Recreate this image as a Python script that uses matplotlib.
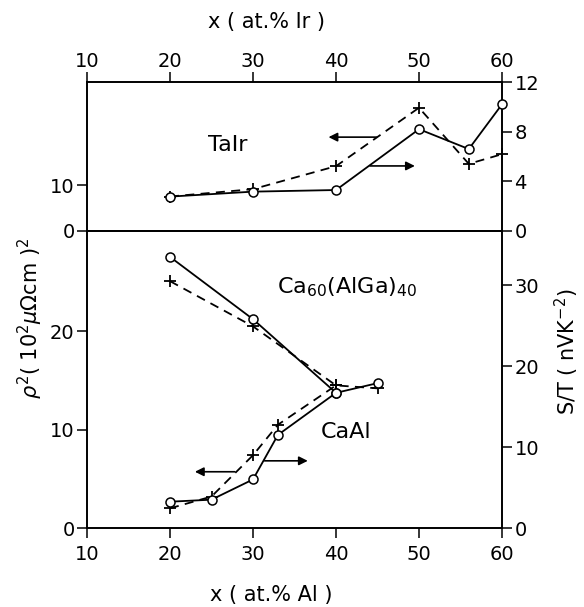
import matplotlib
matplotlib.use("Agg")
import matplotlib.pyplot as plt

# ---- data ----
x_tair = [20, 30, 40, 50, 56, 60]
st_tair = [2.77, 3.17, 3.3, 8.2, 6.6, 10.2]
rho_tair = [7.5, 9.1, 14.1, 26.8, 14.6, 16.7]

x_caal = [20, 25, 30, 33, 40, 45]
st_caal = [3.25, 3.5, 6.0, 11.5, 16.7, 17.9]
rho_caal = [2.0, 3.2, 7.4, 10.5, 14.5, 14.2]

x_caalga = [20, 30, 40]
st_caalga = [33.5, 25.8, 16.7]
rho_caalga = [25.1, 20.5, 14.5]

x_ticks = [10, 20, 30, 40, 50, 60]
top_left_ticks = [0, 10]
top_right_ticks = [0, 4, 8, 12]
bot_left_ticks = [0, 10, 20]
bot_right_ticks = [0, 10, 20, 30]

plt.rcParams['font.family'] = ['DejaVu Sans']
W, H = 584, 607
fig = plt.figure(figsize=(W / 100, H / 100), dpi=100)

def frac(l, t, r, b):
    return [l / W, 1 - b / H, (r - l) / W, (b - t) / H]

ax_t = fig.add_axes(frac(87, 82, 502, 231))
ax_b = fig.add_axes(frac(87, 231, 502, 528))
ax_tr = ax_t.twinx()
ax_br = ax_b.twinx()

lw_sp = 1.2
for a in (ax_t, ax_b, ax_tr, ax_br):
    for s in a.spines.values():
        s.set_linewidth(lw_sp)
    a.set_xlim(10, 60)

fs = 14
tick_kw = dict(direction='out', length=7, width=1.1, labelsize=fs)

# top panel
ax_t.set_ylim(0, 32.4)
ax_t.set_yticks(top_left_ticks)
ax_t.xaxis.tick_top()
ax_t.set_xticks(x_ticks)
ax_t.tick_params(axis='x', pad=1, **tick_kw)
ax_t.tick_params(axis='y', pad=2, **tick_kw)
ax_tr.set_ylim(0, 12)
ax_tr.set_yticks(top_right_ticks)
ax_tr.tick_params(axis='y', pad=2, **tick_kw)

# bottom panel
ax_b.set_ylim(0, 30.2)
ax_b.set_yticks(bot_left_ticks)
ax_b.set_xticks(x_ticks)
ax_b.tick_params(axis='x', pad=5, **tick_kw)
ax_b.tick_params(axis='y', pad=2, **tick_kw)
ax_br.set_ylim(0, 36.7)
ax_br.set_yticks(bot_right_ticks)
ax_br.tick_params(axis='y', pad=2, **tick_kw)

solid = dict(color='black', lw=1.3, ls='-', marker='o', ms=6.5,
             mfc='white', mec='black', mew=1.1, zorder=3, clip_on=False)
dashed = dict(color='black', lw=1.3, ls=(0, (5, 3.5)), marker='+', ms=8,
              mew=1.3, zorder=4, clip_on=False)

ax_tr.plot(x_tair, st_tair, **solid)
ax_t.plot(x_tair, rho_tair, **dashed)
ax_br.plot(x_caal, st_caal, **solid)
ax_br.plot(x_caalga, st_caalga, **solid)
ax_b.plot(x_caal, rho_caal, **dashed)
ax_b.plot(x_caalga, rho_caalga, **dashed)

arr = dict(arrowstyle='-|>', lw=1.2, color='black', mutation_scale=13,
           shrinkA=0, shrinkB=0)
ax_tr.annotate('', xy=(39.1, 7.56), xytext=(44.9, 7.56), arrowprops=arr)
ax_tr.annotate('', xy=(49.5, 5.24), xytext=(44.1, 5.24), arrowprops=arr)
ax_br.annotate('', xy=(23.0, 6.95), xytext=(27.8, 6.95), arrowprops=arr)
ax_br.annotate('', xy=(36.6, 8.3), xytext=(31.4, 8.3), arrowprops=arr)

ax_tr.text(27, 6.9, 'TaIr', fontsize=16, ha='center', va='center')
ax_br.text(41.4, 29.8, r'Ca$_{60}$(AlGa)$_{40}$', fontsize=16, ha='center', va='center')
ax_br.text(41.2, 11.9, 'CaAl', fontsize=16, ha='center', va='center')

fig.text(267 / W, 1 - 22 / H, 'x ( at.% Ir )', fontsize=15, ha='center', va='center')
fig.text(271 / W, 1 - 595 / H, 'x ( at.% Al )', fontsize=15, ha='center', va='center')
fig.text(30 / W, 1 - 318 / H, r'$\rho^2$( 10$^2$$\mu\Omega$cm )$^2$', fontsize=15,
         rotation=90, ha='center', va='center')
fig.text(567 / W, 1 - 352 / H, r'S/T ( nVK$^{-2}$)', fontsize=15,
         rotation=90, ha='center', va='center')

fig.savefig('out.png', dpi=100)
